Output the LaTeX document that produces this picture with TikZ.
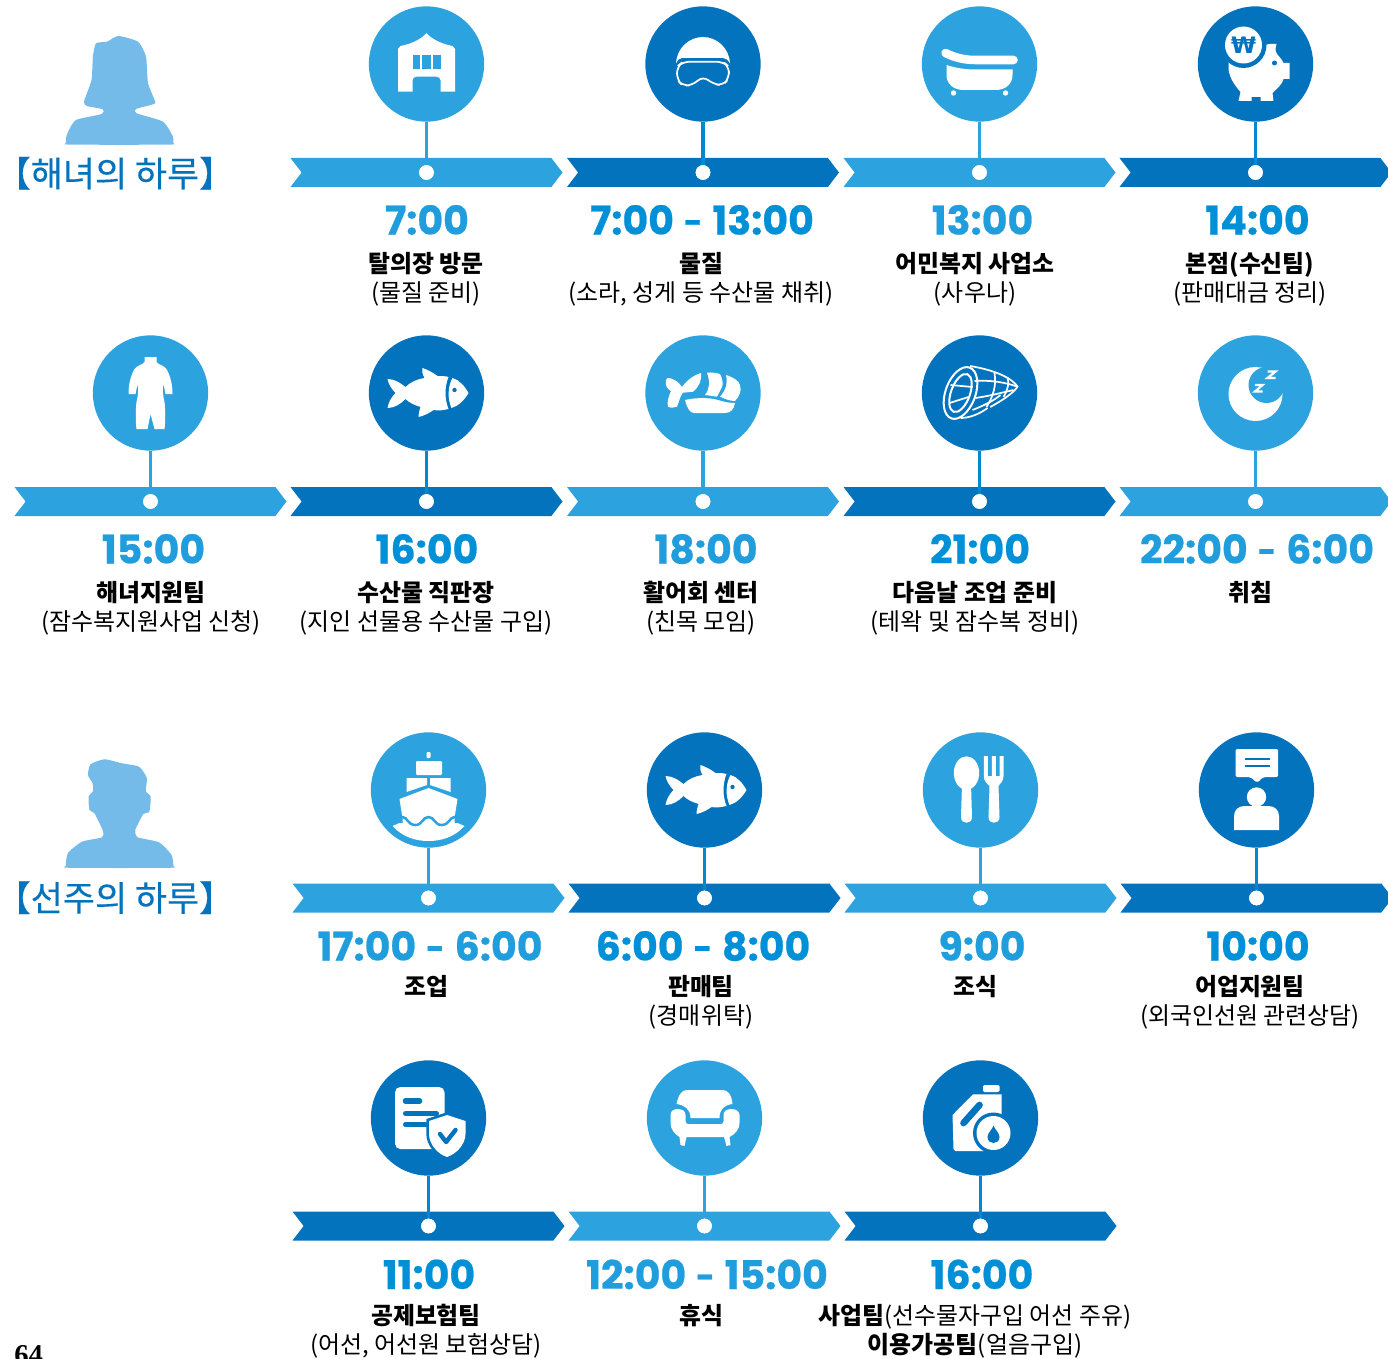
\documentclass[tikz,border=0pt]{standalone}
\usepackage{fontspec}
\usetikzlibrary{shapes.symbols}
\setmainfont{Noto Sans CJK KR}
\newfontfamily\titlefont[FakeBold=0.25]{Noto Sans CJK KR}
\newfontfamily\timefont[BoldFeatures={FakeBold=0.6}]{Poppins}
\newfontfamily\pagefont{Liberation Serif}
\newfontfamily\wonfont{DejaVu Sans}

\definecolor{bandLight}{HTML}{2CA3DF}
\definecolor{bandDark}{HTML}{0373BD}
\definecolor{timeLight}{HTML}{1F9DDC}
\definecolor{timeDark}{HTML}{0090D7}
\definecolor{lineLight}{HTML}{2CA3DF}
\definecolor{lineDark}{HTML}{0088D0}
\definecolor{personBlue}{HTML}{74BBE9}

\newcommand{\tdash}{\kern1.2pt{\fontsize{24}{24}\selectfont\raisebox{0.6pt}{-}}\kern1.2pt}

\tikzset{
  stopCircle/.style={circle, minimum size=86.5pt, inner sep=0pt, fill=#1},
  stopBand/.style={signal, signal from=west, signal to=east, signal pointer angle=105,
    minimum width=204pt, minimum height=21.75pt, inner sep=0pt, fill=#1},
  stopDot/.style={circle, minimum size=11pt, inner sep=0pt, fill=white},
  stopLine/.style={draw=#1, line width=2.6pt},
  timeText/.style={anchor=base, inner sep=0pt, text=#1, font=\timefont\bfseries\fontsize{29.6}{30}\selectfont},
  nameText/.style={anchor=base, inner sep=0pt, font=\bfseries\fontsize{17.9}{20}\selectfont},
  subText/.style={anchor=base, inner sep=0pt, font=\fontsize{17.95}{20}\selectfont},
  dayTitle/.style={anchor=base, inner sep=0pt, text=bandDark, font=\titlefont\fontsize{26.2}{28}\selectfont},
  pics/iconHouse/.style={code={
    \fill[white] (-28.5,27.7) -- (-28.5,-15) -- (-26,-18) .. controls (-15,-20) and (-5,-25) .. (0,-31)
      .. controls (5,-25) and (15,-20) .. (26,-18) -- (28.5,-15) -- (28.5,27.7) -- (14,27.7) -- (14,16)
      .. controls (14,14) and (12,12.7) .. (10,12.7) -- (-10,12.7) .. controls (-12,12.7) and (-14,14) .. (-14,16)
      -- (-14,27.7) -- cycle;
    \fill[bandLight] (-14,-8.7) rectangle (-6.5,5);
    \fill[bandLight] (-4.5,-8.7) rectangle (4.5,5);
    \fill[bandLight] (6.5,-8.7) rectangle (14,5);
  }},
  pics/iconGoggles/.style={code={
    \fill[white] (-27,-0.7) .. controls (-26,-17) and (-13,-27) .. (0,-27) .. controls (13,-27) and (26,-17) .. (27,-0.7)
      .. controls (25,-4) and (23,-6) .. (20,-6) -- (-21,-6) .. controls (-24,-6) and (-25,-4) .. (-27,-0.7) -- cycle;
    \draw[white, line width=1.3pt, rounded corners=5pt] (-20,-2.3) -- (20,-2.3) -- (26,2.7) -- (26,14) -- (20,21.5)
      -- (10,20) -- (0,12) -- (-10,21) -- (-20,22) -- (-26,16) -- (-26,2.7) -- cycle;
  }},
  pics/iconTub/.style={code={
    \draw[white, line width=6.4pt, line cap=round] (-34,-11) .. controls (-24,-6) and (-14,-4) .. (-4,-4) -- (34,-4);
    \fill[white] (-33,1) .. controls (-24,4) and (-14,5.5) .. (-4,5.5) -- (33,5.5) -- (33,11)
      .. controls (33,20) and (26,26) .. (16,26) -- (-16,26) .. controls (-26,26) and (-33,20) .. (-33,11) -- cycle;
    \fill[white] (-26,29) circle [radius=2.7];
    \fill[white] (26,29) circle [radius=2.7];
  }},
  pics/iconPig/.style={code={
    \fill[white] (21,-20) .. controls (19,-14) and (20,-11) .. (24,-7) .. controls (26,-5) and (27,-3) .. (28,-1)
      -- (34,-1) -- (34,15) -- (28,15) .. controls (27,20) and (22,24) .. (17,29) -- (18,37) -- (5,37) -- (5,33)
      -- (-4,33) -- (-4,37) -- (-17,37) -- (-15,28) .. controls (-22,20) and (-27,12) .. (-27,3) -- (-27,-5)
      -- (0,-12) .. controls (4,-18) and (12,-21) .. (21,-20) -- cycle;
    \fill[bandDark] (-12,-19) circle [radius=23];
    \fill[white] (-12,-19) circle [radius=18.5];
    \fill[bandDark] (19,-1) circle [radius=2.5];
    \node[inner sep=0pt, text=bandDark, font=\wonfont\bfseries\fontsize{17}{17}\selectfont] (wonSign) at (-12,-19) {₩};
  }},
  pics/iconSuit/.style={code={
    \fill[white] (-6,-36) -- (6,-36) -- (6,-31) .. controls (8,-28) and (13,-28) .. (16,-24)
      .. controls (20,-17) and (22,-8) .. (22,1) -- (15,1) -- (13,-9) .. controls (12,-3) and (12,0) .. (14,9)
      .. controls (15,18) and (15,28) .. (14,36) -- (4,36) -- (0,21) -- (-3,36) -- (-14,36)
      .. controls (-15,28) and (-15,18) .. (-14,9) .. controls (-12,0) and (-12,-3) .. (-13,-9) -- (-15,1) -- (-22,1)
      .. controls (-22,-8) and (-20,-17) .. (-16,-24) .. controls (-13,-28) and (-8,-28) .. (-6,-31) -- cycle;
  }},
  pics/iconFish/.style={code={
    \fill[white] (-39,-14) .. controls (-32,-14) and (-26,-10) .. (-21,-6) .. controls (-16,-11) and (-9,-14) .. (-2,-15)
      .. controls (-4,-19) and (-5,-22) .. (-4,-25) .. controls (2,-23) and (7,-20) .. (11,-17)
      .. controls (15,-17) and (19,-17) .. (22,-16) .. controls (18,-6) and (18,6) .. (22,16)
      .. controls (17,17) and (12,18) .. (7,17) .. controls (3,20) and (-3,23) .. (-8,24)
      .. controls (-8,21) and (-7,17) .. (-6,14) .. controls (-12,12) and (-17,10) .. (-21,6)
      .. controls (-26,11) and (-32,15) .. (-39,15) .. controls (-38,9) and (-35,4) .. (-31,0)
      .. controls (-35,-4) and (-38,-9) .. (-39,-14) -- cycle;
    \fill[white] (26,-15) .. controls (33,-13) and (38,-7) .. (42,0) .. controls (38,7) and (32,13) .. (25,15)
      .. controls (21,6) and (21,-6) .. (26,-15) -- cycle;
    \fill[bandDark] (28,-3) circle [radius=2.2];
  }},
  pics/iconSushi/.style={code={
    \fill[white] (-35,-15) .. controls (-30,-15) and (-24,-11) .. (-21,-6) .. controls (-16,-13) and (-9,-18) .. (-2,-20)
      .. controls (-1,-13) and (-4,-6) .. (-10,-1.3) -- (-20,-0.3) .. controls (-23,3) and (-24,9) .. (-26,13.7) .. controls (-29,15) and (-33,15) .. (-35,13.7)
      .. controls (-36,9) and (-35,5) .. (-32,-2) .. controls (-36,-4) and (-38,-8) .. (-37,-12) .. controls (-37,-14) and (-36,-15) .. (-35,-15) -- cycle;
    \fill[white] (4,-20.3) .. controls (9,-21) and (13,-20) .. (17,-19) .. controls (20,-14) and (20,-8) .. (19,-6)
      -- (14,3.7) -- (2,2) .. controls (7,-4) and (7,-12) .. (4,-20.3) -- cycle;
    \fill[white] (23,-18) .. controls (30,-16) and (36,-12) .. (37,-8) .. controls (39,-2) and (36,4) .. (32,8)
      .. controls (27,8) and (22,6) .. (17,3.7) .. controls (23,-3) and (25,-10) .. (23,-18) -- cycle;
    \fill[white] (-18,7) .. controls (-10,5) and (5,4) .. (15,7) .. controls (21,9) and (27,10) .. (32,10)
      .. controls (31,16) and (28,20) .. (22,20) -- (-9,20) .. controls (-13,20) and (-16,15) .. (-18,7) -- cycle;
  }},
  pics/iconNet/.style={code={
    \draw[white, line width=1.5pt, rotate around={-20:(-19,0)}] (-19,0) ellipse [x radius=15, y radius=27];
    \draw[white, line width=1.5pt, rotate around={-20:(-19,0)}] (-19,0) ellipse [x radius=9.5, y radius=20];
    \draw[white, line width=1.3pt] (-9.3,-27) .. controls (8,-24) and (30,-18) .. (38,-6.3) .. controls (34,0) and (22,8) .. (10.7,14);
    \draw[white, line width=1.3pt] (-19,25) .. controls (-10,25) and (0,21) .. (8,15);
    \draw[white, line width=1.3pt] (-29,-8) -- (-7,-6);
    \draw[white, line width=1.3pt] (-30,10) -- (-11,4);
    \draw[white, line width=1.3pt] (-5,-12) .. controls (10,-13) and (25,-11) .. (38,-6.3);
    \draw[white, line width=1.3pt] (-4,5) .. controls (10,3) and (25,-1) .. (34,-3);
    \draw[white, line width=1.3pt] (-7,17) .. controls (3,13) and (14,8) .. (21,2);
    \draw[white, line width=1.3pt] (15,-20) .. controls (17,-8) and (14,3) .. (7,14);
    \draw[white, line width=1.3pt] (28,-16) .. controls (30,-9) and (28,-3) .. (24,4);
  }},
  pics/iconMoon/.style={code={
    \fill[white] (0,1) circle [radius=27];
    \fill[bandLight] (11,-8) circle [radius=18];
    \draw[white, line width=1.7pt] (-0.5,-8) -- (7,-8) -- (-0.5,-1.5) -- (7,-1.5);
    \draw[white, line width=1.7pt] (12,-21.5) -- (20,-21.5) -- (12,-15) -- (20,-15);
  }},
  pics/iconShip/.style={code={
    \fill[white, rounded corners=0.6pt] (-2,-38) rectangle (2,-32);
    \fill[white, rounded corners=0.8pt] (-12.5,-29) rectangle (13.5,-15);
    \fill[white] (-22,-12) -- (-1.5,-12) -- (-1.5,-5) -- (-22,2) -- cycle;
    \fill[white] (22,-12) -- (1.5,-12) -- (1.5,-5) -- (22,2) -- cycle;
    \fill[white] (0,-2) -- (29,9) -- (26,28) -- (26,36) -- (-26,36) -- (-26,28) -- (-29,9) -- cycle;
    \fill[white] (-36,36) .. controls (-26,47) and (-13,51) .. (0,51) .. controls (13,51) and (26,47) .. (36,36) -- (29,33) -- (-29,33) -- cycle;
    \draw[bandLight, line width=1.9pt] (-33,31) .. controls (-29,31) and (-30,27) .. (-26,27) .. controls (-21,27) and (-21,35) .. (-13,35)
      .. controls (-6,35) and (-6,27) .. (0,27) .. controls (6,27) and (6,35) .. (13,35) .. controls (21,35) and (21,27) .. (26,27)
      .. controls (30,27) and (29,31) .. (33,31);
  }},
  pics/iconCutlery/.style={code={
    \fill[white] (-14,-17) ellipse [x radius=12.7, y radius=16.7];
    \fill[white] (-18.5,-6) -- (-9.5,-6) -- (-8.5,27) .. controls (-8.5,31) and (-11,32.7) .. (-14,32.7)
      .. controls (-17,32.7) and (-19.5,31) .. (-19.5,27) -- cycle;
    \fill[white] (3.3,-34) -- (7.3,-34) -- (7.3,-14) -- (11.3,-14) -- (11.3,-34) -- (15.3,-34) -- (15.3,-14) -- (19,-14)
      -- (19,-34) -- (23,-34) -- (23,-14) .. controls (23,-9) and (20,-7) .. (18,-4) -- (19,27)
      .. controls (19,31) and (16.5,32.7) .. (13.5,32.7) .. controls (10.5,32.7) and (8,31) .. (8,27)
      -- (9,-4) .. controls (6,-7) and (3.3,-9) .. (3.3,-14) -- cycle;
  }},
  pics/iconAdvice/.style={code={
    \fill[white, rounded corners=1.5pt] (-21,-41) -- (21.7,-41) -- (21.7,-13) -- (6.7,-13) -- (0.7,-7) -- (-6,-13) -- (-21,-13) -- cycle;
    \draw[bandDark, line width=1.4pt] (-12,-31) -- (13,-31);
    \draw[bandDark, line width=1.4pt] (-12,-23.7) -- (13,-23.7);
    \fill[white] (0,7) circle [radius=9.7];
    \fill[white] (-22.5,40) -- (-22.5,26) .. controls (-22.5,20) and (-18,16) .. (-12,16) -- (12,16)
      .. controls (18,16) and (22.5,20) .. (22.5,26) -- (22.5,40) -- cycle;
  }},
  pics/iconPolicy/.style={code={
    \fill[white, rounded corners=4pt] (-33.5,-31) rectangle (16,31);
    \draw[bandDark, line width=4.2pt, line cap=round] (-23,-17) -- (-9,-17);
    \draw[bandDark, line width=3.8pt, line cap=round] (-23,-4.5) -- (8,-4.5);
    \draw[bandDark, line width=3.8pt, line cap=round] (-23,6.7) -- (-3,6.7);
    \draw[bandDark, line width=4pt] (18.5,-3) -- (37,3) -- (37,16) .. controls (37,26) and (28,36) .. (18.5,39) .. controls (9,36) and (0.5,26) .. (0.5,16) -- (0.5,3) -- cycle;
    \fill[white] (18.5,-3) -- (37,3) -- (37,16) .. controls (37,26) and (28,36) .. (18.5,39) .. controls (9,36) and (0.5,26) .. (0.5,16) -- (0.5,3) -- cycle;
    \draw[bandDark, line width=3.3pt, line cap=round, line join=round] (11.5,16) -- (17.6,24) -- (27,12);
  }},
  pics/iconSofa/.style={code={
    \fill[white] (-28,-14) .. controls (-26,-24) and (-22,-28) .. (-18,-28) -- (18,-28) .. controls (23,-28) and (27,-24) .. (28,-14)
      .. controls (20,-13) and (15,-9) .. (15,0) -- (-14,0) .. controls (-14,-9) and (-20,-13) .. (-28,-14) -- cycle;
    \fill[white] (-34,-3) .. controls (-34,-7) and (-31,-9) .. (-27,-9) .. controls (-22,-9) and (-19,-7) .. (-19,-3) -- (-19,3)
      .. controls (-19,5) and (-18,6) .. (-16,6) -- (16,6) .. controls (18,6) and (19,5) .. (19,3) -- (19,-3)
      .. controls (19,-7) and (22,-9) .. (27,-9) .. controls (31,-9) and (35,-7) .. (35,-3) -- (35,5) .. controls (35,11) and (31,16) .. (25,19)
      -- (26,27) -- (22,28) -- (19.5,19) -- (-18,19) -- (-20,28) -- (-24,27) -- (-25,19) .. controls (-30,16) and (-34,11) .. (-34,5) -- cycle;
  }},
  pics/iconCan/.style={code={
    \fill[white, rounded corners=1pt] (2.6,-33) rectangle (19,-26);
    \fill[white] (-7.5,-23.7) -- (21,-23.7) -- (21,5) -- (3.5,33) -- (-25,33) -- (-27,31) -- (-28,-3) -- cycle;
    \draw[bandDark, line width=5pt, line cap=round] (-1,-13) -- (-17,5);
    \fill[bandDark] (13,15) circle [radius=20.5];
    \fill[white] (13,15) circle [radius=17];
    \fill[bandDark] (13,7.7) .. controls (14,11) and (19,15) .. (19,19) .. controls (19,23) and (16,25) .. (13,25)
      .. controls (10,25) and (7,23) .. (7,19) .. controls (7,15) and (12,11) .. (13,7.7) -- cycle;
  }}
}

\newcommand{\Slot}[8]{
  \node[stopCircle=band#3] (c#1) at (#2,\yC) {};
  \pic at (c#1) {#4};
  \node[stopBand=band#3] (b#1) at (#2,\yB) {};
  \node[stopDot] (d#1) at (#2,\yB) {};
  \draw[stopLine=line#3] (c#1) -- (d#1);
  \node[stopDot] at (d#1) {};
  \node[timeText=time#3] (t#1) at (#6,\yT) {#5};
  \node[nameText] (n#1) at (#7,\yN) {#8};
}
\newcommand{\SubLine}[3]{
  \node[subText] (s#1) at (#2,\yS) {#3};
}

\begin{document}
\begin{tikzpicture}[x=0.75pt, y=-0.75pt]
  \useasboundingbox (0,0) rectangle (1388,1359);

  \fill[personBlue] plot[smooth cycle, tension=0.35] coordinates {(118.3,36) (107,41.7) (96,43.3) (92.9,56.7) (91.5,80) (84,101.7) (87,106)
    (102.7,109.3) (101.8,114) (75.9,120) (68,132) (66,138) (66,143) (67,144.5) (119,144.8) (172,144.5) (173.2,143) (173,136.7) (163,121.7) (136.6,113.3) (136,109)
    (154,104) (155,101) (148,83) (146,56.7) (138,41.7)};
  \node[dayTitle] (womanTitle) at (115,186.5) {\kern-8pt【해녀의 하루】\kern-8pt};

  \fill[personBlue] plot[smooth cycle, tension=0.35] coordinates {(104.5,759.3) (122,763.3) (139,766.7) (146.8,778) (145.8,791) (150.7,796.7)
    (149.3,811.7) (143.3,814) (135.3,830) (137.8,837.3) (159,842.3) (171.6,855) (173.4,866) (172.5,867.7) (120,868) (66.5,867.7) (65.7,866) (68,853) (82,841.7)
    (102,837.3) (103,831) (94.5,813.3) (89.5,810) (88.6,796.7) (93,791) (92.5,783) (88,775) (90.5,764.3)};
  \node[dayTitle] (manTitle) at (115,911) {\kern-8pt【선주의 하루】\kern-8pt};

  \def\yC{64}\def\yB{172.5}\def\yT{234.5}\def\yN{272}\def\yS{301}
  \Slot{a}{426.5}{Light}{iconHouse}{7:00}{427}{426}{탈의장 방문}
  \SubLine{a}{426}{(물질 준비)}
  \Slot{b}{703}{Dark}{iconGoggles}{7:00 \tdash\ 13:00}{702}{701}{물질}
  \SubLine{b}{701}{(소라, 성게 등 수산물 채취)}
  \Slot{c}{979.5}{Light}{iconTub}{13:00}{982.5}{975}{어민복지 사업소}
  \SubLine{c}{975}{(사우나)}
  \Slot{d}{1255.5}{Dark}{iconPig}{14:00}{1257.5}{1250}{본점(수신팀)}
  \SubLine{d}{1250}{(판매대금 정리)}

  \def\yC{393}\def\yB{501.5}\def\yT{563.5}\def\yN{601}\def\yS{630}
  \Slot{e}{150.5}{Light}{iconSuit}{15:00}{153.5}{151}{해녀지원팀}
  \SubLine{e}{151}{(잠수복지원사업 신청)}
  \Slot{f}{426.5}{Dark}{iconFish}{16:00}{427}{426}{수산물 직판장}
  \SubLine{f}{426}{(지인 선물용 수산물 구입)}
  \Slot{g}{703}{Light}{iconSushi}{18:00}{706}{701}{활어회 센터}
  \SubLine{g}{701}{(친목 모임)}
  \Slot{h}{979.5}{Dark}{iconNet}{21:00}{980}{975}{다음날 조업 준비}
  \SubLine{h}{975}{(테왁 및 잠수복 정비)}
  \Slot{i}{1255.5}{Light}{iconMoon}{22:00 \tdash\ 6:00}{1257}{1250}{취침}

  \def\yC{790}\def\yB{898}\def\yT{960.5}\def\yN{995}\def\yS{1024}
  \Slot{j}{428.5}{Light}{iconShip}{17:00 \tdash\ 6:00}{430}{426}{조업}
  \Slot{k}{704.5}{Dark}{iconFish}{6:00 \tdash\ 8:00}{703}{701}{판매팀}
  \SubLine{k}{701}{(경매위탁)}
  \Slot{l}{980.5}{Light}{iconCutlery}{9:00}{982}{975}{조식}
  \Slot{m}{1256.5}{Dark}{iconAdvice}{10:00}{1258}{1250}{어업지원팀}
  \SubLine{m}{1250}{(외국인선원 관련상담)}

  \def\yC{1118}\def\yB{1226}\def\yT{1289}\def\yN{1324}\def\yS{1353}
  \Slot{n}{428.5}{Dark}{iconPolicy}{11:00}{429}{426}{공제보험팀}
  \SubLine{n}{426}{(어선, 어선원 보험상담)}
  \Slot{o}{704.5}{Light}{iconSofa}{12:00 \tdash\ 15:00}{707}{701}{휴식}
  \Slot{p}{980.5}{Dark}{iconCan}{16:00}{982}{975}{사업팀{\mdseries(선수물자구입 어선 주유)}}
  \SubLine{p}{975}{\textbf{이용가공팀}(얼음구입)}

  \node[anchor=base west, inner sep=0pt, font=\pagefont\bfseries\fontsize{21.5}{22}\selectfont] (pageNo) at (14,1364) {64};
\end{tikzpicture}
\end{document}
